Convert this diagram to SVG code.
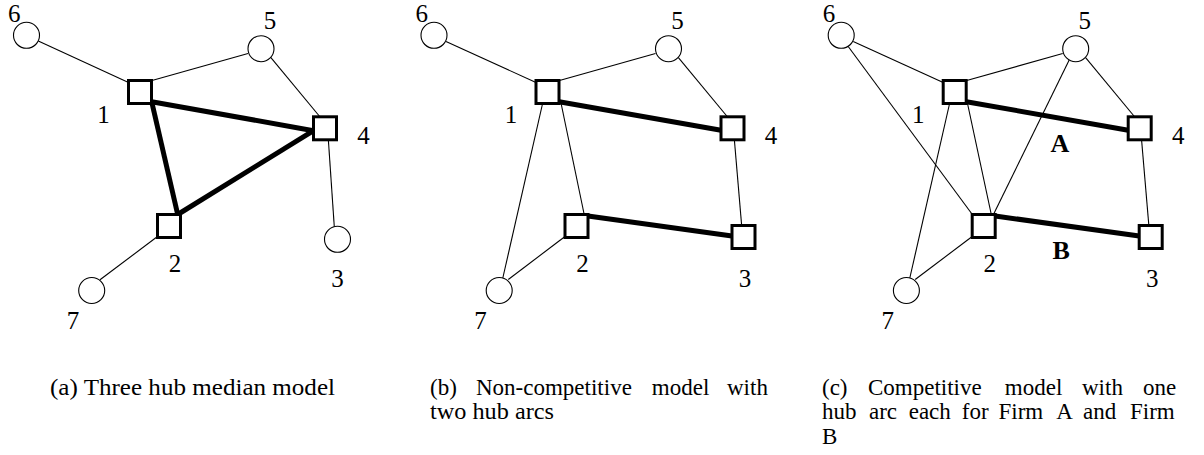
<svg xmlns="http://www.w3.org/2000/svg" width="1204" height="455" viewBox="0 0 1204 455">
<style>
.thin{stroke:#000;stroke-width:1.1;fill:none}
.thick{stroke:#000;stroke-width:5;fill:none;stroke-linecap:butt}
.circ{fill:#fff;stroke:#000;stroke-width:1.1}
.hub{fill:#fff;stroke:#000;stroke-width:3}
.lbl{font-size:25px;fill:#000;text-anchor:middle}
.firm{font-size:26px;font-weight:bold;fill:#000;text-anchor:middle}
.cap{font-size:23px;fill:#000}
</style>
<rect width="1204" height="455" fill="#fff"/>

<g font-family="'Liberation Serif', 'DejaVu Serif', serif">
<!-- Panel (a) -->
<g id="panel-a">
  <g id="a-connectors">
    <line class="thin" x1="38.3" y1="41" x2="128.5" y2="82.5"/>
    <line class="thin" x1="152" y1="80.5" x2="248" y2="53.5"/>
    <line class="thin" x1="270.7" y1="57.3" x2="320.5" y2="117.5"/>
    <line class="thick" x1="151.7" y1="101.7" x2="313.5" y2="130.7"/>
    <line class="thick" x1="151.7" y1="101.7" x2="177.7" y2="214.5"/>
    <line class="thick" x1="177.7" y1="214.5" x2="313.5" y2="130.7"/>
    <line class="thin" x1="328.3" y1="139" x2="334.3" y2="227"/>
    <line class="thin" x1="157.5" y1="236.5" x2="100" y2="279.8"/>
  </g>
  <g id="a-n6"><circle class="circ" cx="26.5" cy="35.3" r="13"/><text class="lbl" x="14.2" y="21.7">6</text></g>
  <g id="a-n5"><circle class="circ" cx="261" cy="48.7" r="13"/><text class="lbl" x="270" y="29.3">5</text></g>
  <g id="a-n1"><rect class="hub" x="128.5" y="80.5" width="23" height="23"/><text class="lbl" x="103.5" y="123.3">1</text></g>
  <g id="a-n4"><rect class="hub" x="313.5" y="116.8" width="23" height="23"/><text class="lbl" x="363.5" y="144">4</text></g>
  <g id="a-n2"><rect class="hub" x="157.5" y="214.5" width="23" height="23"/><text class="lbl" x="175" y="271.7">2</text></g>
  <g id="a-n3"><circle class="circ" cx="337.5" cy="239.3" r="13"/><text class="lbl" x="337.5" y="287">3</text></g>
  <g id="a-n7"><circle class="circ" cx="91.7" cy="290.5" r="13"/><text class="lbl" x="73" y="329.3">7</text></g>
</g>

<!-- Panel (b) -->
<g id="panel-b" transform="translate(407.5,0)">
  <g id="b-connectors">
    <line class="thin" x1="38.5" y1="41.5" x2="128.5" y2="82.5"/>
    <line class="thin" x1="152" y1="80.5" x2="248" y2="53.5"/>
    <line class="thin" x1="270.7" y1="57.3" x2="320.5" y2="117.5"/>
    <line class="thick" x1="151.7" y1="101.7" x2="313.5" y2="130.2"/>
    <line class="thin" x1="153.5" y1="103" x2="176.8" y2="215"/>
    <line class="thin" x1="135.2" y1="103" x2="95.2" y2="278.5"/>
    <line class="thin" x1="157.5" y1="236.5" x2="100.8" y2="279.5"/>
    <line class="thick" x1="180.5" y1="216" x2="324.5" y2="236"/>
    <line class="thin" x1="326.8" y1="139" x2="334.2" y2="226"/>
  </g>
  <g id="b-n6"><circle class="circ" cx="26.5" cy="35.3" r="13"/><text class="lbl" x="14.2" y="21.7">6</text></g>
  <g id="b-n5"><circle class="circ" cx="261" cy="48.7" r="13"/><text class="lbl" x="270" y="29.3">5</text></g>
  <g id="b-n1"><rect class="hub" x="128.5" y="80.5" width="23" height="23"/><text class="lbl" x="103.5" y="123.3">1</text></g>
  <g id="b-n4"><rect class="hub" x="313.5" y="116.8" width="23" height="23"/><text class="lbl" x="363.5" y="144">4</text></g>
  <g id="b-n2"><rect class="hub" x="157.5" y="214.5" width="23" height="23"/><text class="lbl" x="175" y="271.7">2</text></g>
  <g id="b-n3"><rect class="hub" x="324.5" y="225.5" width="23" height="23"/><text class="lbl" x="337.5" y="287">3</text></g>
  <g id="b-n7"><circle class="circ" cx="91.7" cy="290.5" r="13"/><text class="lbl" x="73" y="329.3">7</text></g>
</g>

<!-- Panel (c) -->
<g id="panel-c" transform="translate(814.7,0)">
  <g id="c-connectors">
    <line class="thin" x1="38.5" y1="41.5" x2="128.5" y2="82.5"/>
    <line class="thin" x1="33.5" y1="46.5" x2="158" y2="215"/>
    <line class="thin" x1="152" y1="80.5" x2="248" y2="53.5"/>
    <line class="thin" x1="270.7" y1="57.3" x2="320.5" y2="117.5"/>
    <line class="thin" x1="254.5" y1="60" x2="178.5" y2="215"/>
    <line class="thick" x1="151.7" y1="101.7" x2="313.5" y2="130.2"/>
    <line class="thin" x1="152.7" y1="103" x2="176.7" y2="215"/>
    <line class="thin" x1="135" y1="103" x2="95" y2="278.5"/>
    <line class="thin" x1="157.5" y1="236.5" x2="100.5" y2="279.5"/>
    <line class="thick" x1="180.5" y1="216" x2="324.5" y2="236"/>
    <line class="thin" x1="326.8" y1="139" x2="334.2" y2="226"/>
  </g>
  <g id="c-n6"><circle class="circ" cx="26.5" cy="35.3" r="13"/><text class="lbl" x="14.2" y="21.7">6</text></g>
  <g id="c-n5"><circle class="circ" cx="261" cy="48.7" r="13"/><text class="lbl" x="270" y="29.3">5</text></g>
  <g id="c-n1"><rect class="hub" x="128.5" y="80.5" width="23" height="23"/><text class="lbl" x="103.5" y="123.3">1</text></g>
  <g id="c-n4"><rect class="hub" x="313.5" y="116.8" width="23" height="23"/><text class="lbl" x="363.5" y="144">4</text></g>
  <g id="c-n2"><rect class="hub" x="157.5" y="214.5" width="23" height="23"/><text class="lbl" x="175" y="271.7">2</text></g>
  <g id="c-n3"><rect class="hub" x="324.5" y="225.5" width="23" height="23"/><text class="lbl" x="337.5" y="287">3</text></g>
  <g id="c-n7"><circle class="circ" cx="91.7" cy="290.5" r="13"/><text class="lbl" x="73" y="329.3">7</text></g>
  <g id="c-labelA"><text class="firm" x="245.3" y="151.7">A</text></g>
  <g id="c-labelB"><text class="firm" x="246.5" y="259.3">B</text></g>
</g>

<!-- Captions -->
<g id="captions">
  <text class="cap" x="50" y="394.5" textLength="285" lengthAdjust="spacingAndGlyphs">(a) Three hub median model</text>
  <text class="cap" y="394.5"><tspan x="430">(b)</tspan> <tspan x="476">Non-competitive</tspan> <tspan x="651.8">model</tspan> <tspan x="727">with</tspan></text>
  <text class="cap" x="430" y="419" textLength="124" lengthAdjust="spacingAndGlyphs">two hub arcs</text>
  <text class="cap" y="394.5"><tspan x="822">(c)</tspan> <tspan x="868">Competitive</tspan> <tspan x="1004.8">model</tspan> <tspan x="1082">with</tspan> <tspan x="1143">one</tspan></text>
  <text class="cap" y="419"><tspan x="822">hub</tspan> <tspan x="869">arc</tspan> <tspan x="908.7">each</tspan> <tspan x="961.8">for</tspan> <tspan x="998.5">Firm</tspan> <tspan x="1056.2">A</tspan> <tspan x="1083">and</tspan> <tspan x="1130">Firm</tspan></text>
  <text class="cap" x="822" y="443.5">B</text>
</g>
</g>
</svg>
